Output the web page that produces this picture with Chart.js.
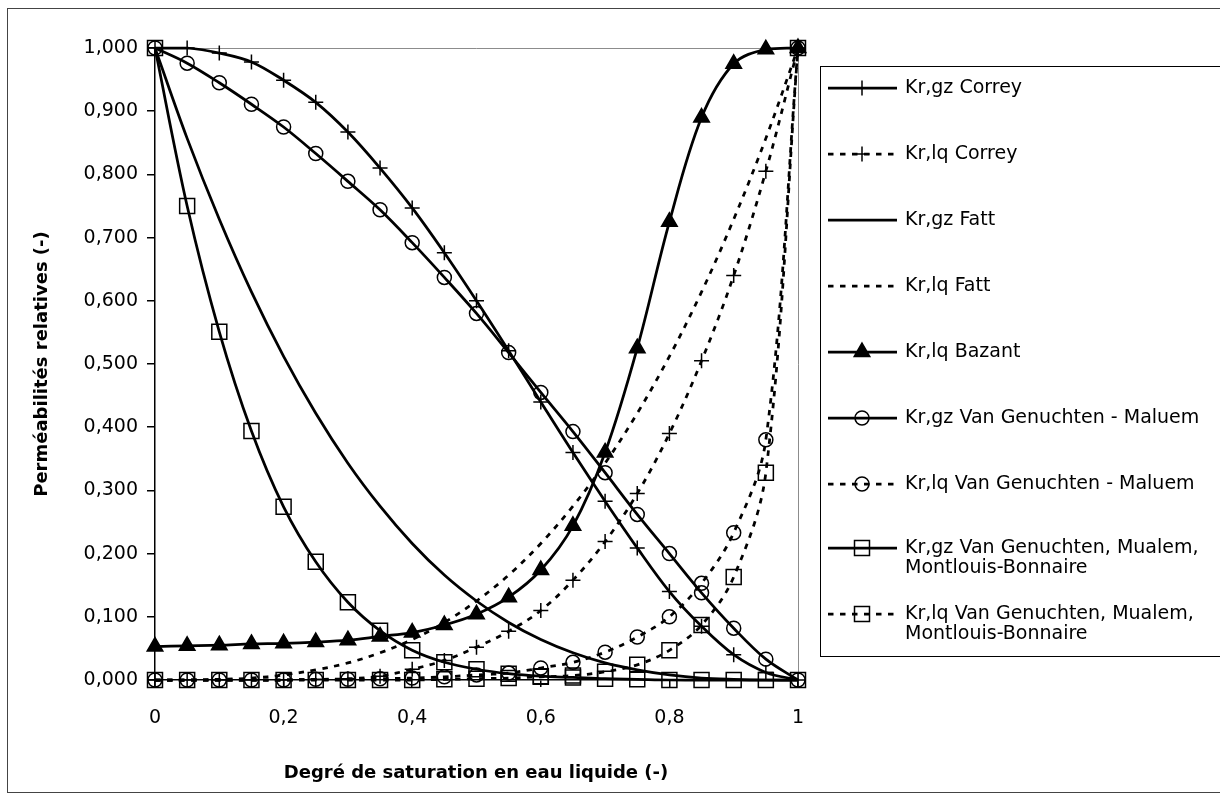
<!DOCTYPE html>
<html>
<head>
<meta charset="utf-8">
<script src="https://cdn.jsdelivr.net/npm/chart.js@4.4.0/dist/chart.umd.min.js"></script>
<style>
  html, body { margin: 0; padding: 0; background: #fff; }
  #wrap { width: 1220px; height: 805px; }
</style>
</head>
<body>
<div id="wrap"><canvas id="krChart" width="1220" height="805"></canvas></div>
<script>
// 液体の飽和度 (横軸)
const saturation = [0, 0.05, 0.1, 0.15, 0.2, 0.25, 0.3, 0.35, 0.4, 0.45, 0.5,
                    0.55, 0.6, 0.65, 0.7, 0.75, 0.8, 0.85, 0.9, 0.95, 1];

// 各モデルの相対透過率
const krGzCorrey = [1.000, 1.000, 0.992, 0.978, 0.949, 0.914, 0.867, 0.810, 0.747, 0.676, 0.600,
                    0.521, 0.440, 0.360, 0.283, 0.209, 0.140, 0.085, 0.040, 0.012, 0.000];
const krLqCorrey = [0.000, 0.000, 0.000, 0.000, 0.000, 0.001, 0.002, 0.006, 0.017, 0.031, 0.052,
                    0.077, 0.110, 0.158, 0.219, 0.295, 0.390, 0.505, 0.640, 0.805, 1.000];
const krGzFatt = [1.000, 0.857, 0.729, 0.614, 0.512, 0.422, 0.343, 0.275, 0.216, 0.166, 0.125,
                  0.091, 0.064, 0.043, 0.027, 0.016, 0.008, 0.003, 0.001, 0.000, 0.000];
const krLqFatt = [0.000, 0.000, 0.001, 0.003, 0.008, 0.016, 0.027, 0.043, 0.064, 0.091, 0.125,
                  0.166, 0.216, 0.275, 0.343, 0.422, 0.512, 0.614, 0.729, 0.857, 1.000];
const krLqBazant = [0.053, 0.054, 0.055, 0.057, 0.058, 0.060, 0.063, 0.069, 0.075, 0.087, 0.104,
                    0.131, 0.174, 0.244, 0.360, 0.525, 0.725, 0.890, 0.975, 0.998, 1.000];
const krGzVGM = [1.000, 0.976, 0.945, 0.911, 0.875, 0.833, 0.789, 0.744, 0.692, 0.637, 0.580,
                 0.518, 0.455, 0.393, 0.328, 0.262, 0.200, 0.138, 0.082, 0.033, 0.000];
const krLqVGM = [0.000, 0.000, 0.000, 0.000, 0.000, 0.001, 0.001, 0.002, 0.003, 0.005, 0.008,
                 0.011, 0.019, 0.028, 0.044, 0.068, 0.100, 0.153, 0.233, 0.380, 1.000];
const krGzVGMMB = [1.000, 0.750, 0.551, 0.394, 0.274, 0.187, 0.123, 0.078, 0.047, 0.028, 0.017,
                   0.010, 0.006, 0.004, 0.002, 0.001, 0.000, 0.000, 0.000, 0.000, 0.000];
const krLqVGMMB = [0.000, 0.000, 0.000, 0.000, 0.000, 0.000, 0.000, 0.000, 0.000, 0.001, 0.002,
                   0.003, 0.005, 0.007, 0.013, 0.024, 0.047, 0.087, 0.163, 0.328, 1.000];

// 凡例の文字列（2行のものは配列）
const seriesNames = [
  ['Kr,gz Correy'],
  ['Kr,lq Correy'],
  ['Kr,gz Fatt'],
  ['Kr,lq Fatt'],
  ['Kr,lq Bazant'],
  ['Kr,gz Van Genuchten - Maluem'],
  ['Kr,lq Van Genuchten - Maluem'],
  ['Kr,gz Van Genuchten, Mualem,', 'Montlouis-Bonnaire'],
  ['Kr,lq Van Genuchten, Mualem,', 'Montlouis-Bonnaire']
];
const seriesValues = [krGzCorrey, krLqCorrey, krGzFatt, krLqFatt, krLqBazant,
                      krGzVGM, krLqVGM, krGzVGMMB, krLqVGMMB];

// 見た目の設定
const DASH = [5.5, 6.5];
const seriesStyles = [
  { dash: [],   point: 'cross',    radius: 7.5 },
  { dash: DASH, point: 'cross',    radius: 7.5 },
  { dash: [],   point: 'circle',   radius: 0 },
  { dash: DASH, point: 'circle',   radius: 0 },
  { dash: [],   point: 'triangle', radius: 9, fill: '#000' },
  { dash: [],   point: 'circle',   radius: 7 },
  { dash: DASH, point: 'circle',   radius: 7 },
  { dash: [],   point: 'rect',     radius: 10.6 },
  { dash: DASH, point: 'rect',     radius: 10.6 }
];

const FONT = "'DejaVu Sans', 'Verdana', sans-serif";
const LEGEND = { left: 820, top: 66, bottom: 656, lineX0: 828, lineX1: 897, markX: 862, textX: 905,
                 rows: [88, 154, 220, 286, 352, 418, 484, 548, 614], lineGap: 20 };
const TITLES = { xX: 476, xY: 773, yX: 42, yY: 364, size: 18 };

const datasets = seriesValues.map((vals, i) => {
  const st = seriesStyles[i];
  return {
    label: seriesNames[i].join(' '),
    data: saturation.map((s, k) => ({ x: s, y: vals[k] })),
    showLine: true,
    borderColor: '#000',
    borderWidth: 2.75,
    borderDash: st.dash,
    tension: 0.35,
    pointStyle: st.point,
    pointRadius: st.radius,
    pointBorderColor: '#000',
    pointBorderWidth: 1.5,
    pointBackgroundColor: st.fill || 'rgba(0,0,0,0)',
    clip: false
  };
});

// 外枠とプロットエリアの上・右の線
const framePlugin = {
  id: 'frame',
  beforeDraw(chart) {
    const ctx = chart.ctx;
    ctx.save();
    ctx.fillStyle = '#fff';
    ctx.fillRect(0, 0, chart.width, chart.height);
    ctx.strokeStyle = '#444';
    ctx.lineWidth = 1;
    ctx.strokeRect(7.5, 8.5, 1260, 784);
    ctx.restore();
  },
  beforeDatasetsDraw(chart) {
    const { ctx, chartArea: a } = chart;
    ctx.save();
    ctx.strokeStyle = '#8c8c8c';
    ctx.lineWidth = 1;
    ctx.beginPath();
    ctx.moveTo(a.left, a.top + 0.5);
    ctx.lineTo(a.right + 0.5, a.top + 0.5);
    ctx.lineTo(a.right + 0.5, a.bottom);
    ctx.stroke();
    ctx.restore();
  },
  afterDraw(chart) {
    const ctx = chart.ctx;
    ctx.save();
    ctx.fillStyle = '#000';
    ctx.font = "bold " + TITLES.size + "px " + FONT;
    ctx.textAlign = 'center';
    ctx.textBaseline = 'middle';
    ctx.fillText('Degré de saturation en eau liquide (-)', TITLES.xX, TITLES.xY);
    ctx.translate(TITLES.yX, TITLES.yY);
    ctx.rotate(-Math.PI / 2);
    ctx.fillText('Perméabilités relatives (-)', 0, 0);
    ctx.restore();
  }
};

// Excel風の凡例
const legendPlugin = {
  id: 'excelLegend',
  afterDraw(chart) {
    const ctx = chart.ctx;
    ctx.save();
    ctx.strokeStyle = '#000';
    ctx.lineWidth = 1;
    ctx.strokeRect(LEGEND.left + 0.5, LEGEND.top + 0.5, 600, LEGEND.bottom - LEGEND.top);
    chart.data.datasets.forEach((ds, i) => {
      const y = LEGEND.rows[i];
      ctx.strokeStyle = '#000';
      ctx.lineWidth = ds.borderWidth;
      ctx.setLineDash(ds.borderDash);
      ctx.beginPath();
      ctx.moveTo(LEGEND.lineX0, y);
      ctx.lineTo(LEGEND.lineX1, y);
      ctx.stroke();
      ctx.setLineDash([]);
      if (ds.pointRadius > 0) {
        ctx.fillStyle = ds.pointBackgroundColor;
        ctx.lineWidth = ds.pointBorderWidth;
        Chart.helpers.drawPoint(ctx, {
          pointStyle: ds.pointStyle, radius: ds.pointRadius, rotation: 0, borderWidth: ds.pointBorderWidth
        }, LEGEND.markX, y);
      }
      ctx.fillStyle = '#000';
      ctx.font = "19px " + FONT;
      ctx.textAlign = 'left';
      ctx.textBaseline = 'middle';
      seriesNames[i].forEach((line, j) => ctx.fillText(line, LEGEND.textX, y + j * LEGEND.lineGap));
    });
    ctx.restore();
  }
};

new Chart(document.getElementById('krChart').getContext('2d'), {
  type: 'scatter',
  data: { datasets },
  options: {
    responsive: false,
    animation: false,
    events: [],
    layout: { padding: { left: 0, top: 48, right: 422, bottom: 0 } },
    scales: {
      x: {
        type: 'linear',
        min: 0,
        max: 1,
        afterFit(s) { s.height = 125; },
        ticks: {
          stepSize: 0.2,
          color: '#000',
          font: { family: FONT, size: 19 },
          padding: 20,
          maxRotation: 0,
          callback: v => String(Math.round(v * 10) / 10).replace('.', ',')
        },
        grid: { drawOnChartArea: false, drawTicks: true, tickLength: 7, color: '#000', lineWidth: 1.5 },
        border: { color: '#000', width: 1.5 }
      },
      y: {
        type: 'linear',
        min: 0,
        max: 1,
        afterFit(s) { s.width = 155; },
        ticks: {
          stepSize: 0.1,
          color: '#000',
          font: { family: FONT, size: 19 },
          padding: 9,
          callback: v => v.toFixed(3).replace('.', ',')
        },
        grid: { drawOnChartArea: false, drawTicks: true, tickLength: 8, color: '#000', lineWidth: 1.5 },
        border: { color: '#000', width: 1.5 }
      }
    },
    plugins: {
      legend: { display: false },
      tooltip: { enabled: false }
    }
  },
  plugins: [framePlugin, legendPlugin]
});
</script>
</body>
</html>
